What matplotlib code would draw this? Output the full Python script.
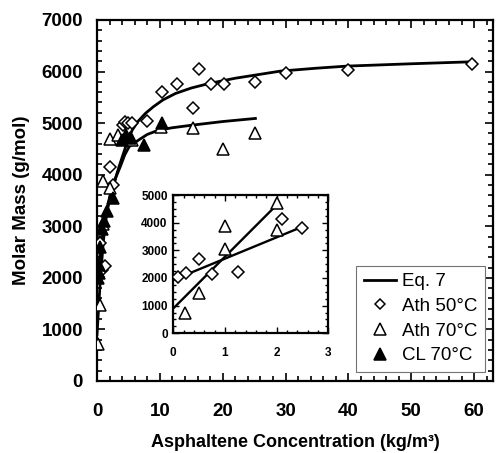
import matplotlib
matplotlib.use("Agg")
import matplotlib.pyplot as plt
from matplotlib.ticker import MultipleLocator
from matplotlib.lines import Line2D

plt.rcParams['font.family'] = ['Liberation Sans', 'DejaVu Sans']

# ---- data ----
ath50_x = [0.1, 0.25, 0.5, 0.75, 1.25, 2.1, 2.5, 4.1, 4.5, 5.0, 5.5, 7.9, 10.3, 12.8, 15.2, 16.2, 18.1, 20.2, 25.1, 30.0, 39.9, 59.6]
ath50_y = [2025, 2190, 2675, 2145, 2230, 4150, 3795, 4960, 5025, 5000, 4994, 5040, 5610, 5756, 5285, 6047, 5760, 5750, 5790, 5975, 6030, 6140]

ath70_x = [0.23, 0.5, 1.0, 1.0, 2.0, 2.0, 3.3, 5.6, 10.2, 15.2, 20.1, 25.1]
ath70_y = [720, 1470, 3880, 3035, 3735, 4700, 4770, 4680, 4920, 4910, 4500, 4800]

cl70_x = [0.15, 0.27, 0.37, 0.5, 0.75, 1.1, 1.6, 2.5, 4.0, 4.6, 5.2, 7.4, 10.3]
cl70_y = [2000, 2100, 2250, 2600, 2950, 3100, 3300, 3540, 4680, 4760, 4720, 4574, 5000]

# Eq. 7 curves
eq50_x = [0, 0.25, 0.5, 1.0, 1.6, 2.0, 2.7, 3.5, 4.5, 5.6, 6.5, 7.7, 9.0, 10.5, 12.5, 15.0, 17.8, 22.0, 29.2, 35.0, 39.8, 50.0, 60.0]
eq50_y = [1930, 2200, 2480, 2900, 3314, 3560, 3830, 4153, 4520, 4864, 5030, 5188, 5320, 5450, 5575, 5680, 5767, 5870, 6008, 6065, 6105, 6150, 6190]

eq70_x = [0, 0.25, 0.5, 1.0, 1.5, 2.0, 3.0, 3.7, 4.4, 5.1, 6.6, 8.0, 9.8, 12.0, 15.2, 20.0, 25.2]
eq70_y = [900, 1400, 1900, 2700, 3200, 3550, 3950, 4153, 4380, 4540, 4670, 4780, 4864, 4910, 4961, 5030, 5090]

# inset linear fits: (intercept, slope, x-range end)
fit50 = (1930, 770, 2.5)
fit70 = (900, 1870, 2.0)

xticks_main = [0, 10, 20, 30, 40, 50, 60]
yticks_main = [0, 1000, 2000, 3000, 4000, 5000, 6000, 7000]

# ---- figure ----
fig = plt.figure(figsize=(5.0, 4.53), dpi=100)
ax = fig.add_axes([0.194, 0.159, 0.792, 0.797])

ax.plot(eq50_x, eq50_y, color='black', lw=2.0, zorder=2)
ax.plot(eq70_x, eq70_y, color='black', lw=2.0, zorder=2)
ax.plot(ath50_x, ath50_y, ls='none', marker='D', ms=6.5, mfc='white', mec='black', mew=1.1, zorder=3)
ax.plot(ath70_x, ath70_y, ls='none', marker='^', ms=9, mfc='white', mec='black', mew=1.1, zorder=3)
ax.plot(cl70_x, cl70_y, ls='none', marker='^', ms=9, mfc='black', mec='black', mew=1.1, zorder=4)

ax.set_xlim(0, 63)
ax.set_ylim(0, 7000)
ax.set_xticks(xticks_main)
ax.set_yticks(yticks_main)
ax.xaxis.set_minor_locator(MultipleLocator(2))
ax.yaxis.set_minor_locator(MultipleLocator(200))
ax.tick_params(which='both', direction='in', top=True, right=True, width=1.2)
ax.tick_params(which='major', length=6)
ax.tick_params(which='minor', length=3.5)
ax.tick_params(axis='x', which='major', pad=16)
ax.tick_params(axis='y', which='major', pad=10)
for lab in ax.get_xticklabels() + ax.get_yticklabels():
    lab.set_fontweight('bold')
    lab.set_fontsize(13.5)
for s in ax.spines.values():
    s.set_linewidth(1.6)

ax.set_xlabel('Asphaltene Concentration (kg/m³)', fontsize=13, fontweight='bold', labelpad=10)
ax.set_ylabel('Molar Mass (g/mol)', fontsize=13.5, fontweight='bold', labelpad=8)

handles = [
    Line2D([], [], color='black', lw=2.0),
    Line2D([], [], ls='none', marker='D', ms=5.5, mfc='white', mec='black', mew=1.1),
    Line2D([], [], ls='none', marker='^', ms=8, mfc='white', mec='black', mew=1.1),
    Line2D([], [], ls='none', marker='^', ms=8, mfc='black', mec='black', mew=1.1),
]
leg = ax.legend(handles, ['Eq. 7', 'Ath 50°C', 'Ath 70°C', 'CL 70°C'],
                loc='lower right', bbox_to_anchor=(0.99, 0.015), fontsize=13.5,
                frameon=True, fancybox=False, edgecolor='0.45', framealpha=1,
                handlelength=1.7, handletextpad=0.35, labelspacing=0.4,
                borderpad=0.4, borderaxespad=0.2)
leg.get_frame().set_linewidth(0.8)

# ---- inset ----
ins = fig.add_axes([0.3466, 0.2642, 0.31, 0.3053])
ins.plot([0, fit50[2]], [fit50[0], fit50[0] + fit50[1] * fit50[2]], color='black', lw=1.7, zorder=2)
ins.plot([0, fit70[2]], [fit70[0], fit70[0] + fit70[1] * fit70[2]], color='black', lw=1.7, zorder=2)
ins50 = [(x, y) for x, y in zip(ath50_x, ath50_y) if x <= 3]
ins70 = [(x, y) for x, y in zip(ath70_x, ath70_y) if x <= 3]
ins.plot([p[0] for p in ins50], [p[1] for p in ins50], ls='none', marker='D', ms=6, mfc='white', mec='black', mew=1.1, zorder=3)
ins.plot([p[0] for p in ins70], [p[1] for p in ins70], ls='none', marker='^', ms=8.5, mfc='white', mec='black', mew=1.1, zorder=3)
ins.set_xlim(0, 3)
ins.set_ylim(0, 5000)
ins.set_xticks([0, 1, 2, 3])
ins.set_yticks([0, 1000, 2000, 3000, 4000, 5000])
ins.xaxis.set_minor_locator(MultipleLocator(0.2))
ins.yaxis.set_minor_locator(MultipleLocator(250))
ins.tick_params(which='both', direction='in', top=True, right=True, width=1.0)
ins.tick_params(which='major', length=4)
ins.tick_params(which='minor', length=2.5)
ins.tick_params(axis='x', which='major', pad=10)
ins.tick_params(axis='y', which='major', pad=4)
for lab in ins.get_xticklabels() + ins.get_yticklabels():
    lab.set_fontweight('bold')
    lab.set_fontsize(8.5)
for s in ins.spines.values():
    s.set_linewidth(1.6)

fig.savefig('out.png', dpi=100)
